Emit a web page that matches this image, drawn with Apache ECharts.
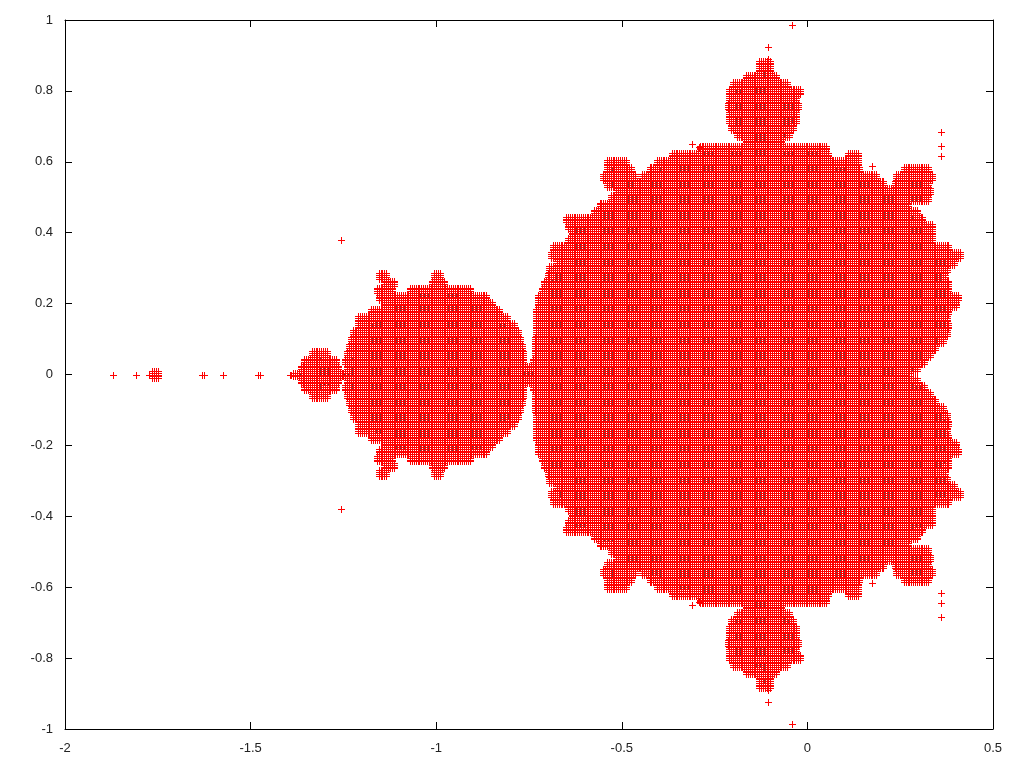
<!DOCTYPE html>
<html><head><meta charset="utf-8">
<style>html,body{margin:0;padding:0;background:#fff}#c{width:1024px;height:768px}</style>
<script src="https://cdn.jsdelivr.net/npm/echarts@6/dist/echarts.min.js"></script>
</head><body><div id="c"></div>
<script>
// Lower half of the picture mirrors the upper half.
const rows = [
[0,-1.397,0.268],
[0.005,-1.385,0.275],
[0.025,-1.367,-1.262,-1.240,0.295],
[0.045,-1.359,-1.270,-1.246,-0.763,-0.742,0.317],
[0.065,-1.335,-1.295,-1.240,-0.763,-0.739,0.333],
[0.085,-1.235,-0.766,-0.736,0.346],
[0.105,-1.232,-0.771,-0.736,0.365],
[0.125,-1.227,-0.780,-0.734,0.376],
[0.145,-1.211,-0.790,-0.734,0.384],
[0.165,-1.213,-0.807,-0.734,0.379],
[0.185,-1.175,-0.828,-0.731,0.384],
[0.205,-1.143,-0.847,-0.728,0.403],
[0.225,-1.157,-0.863,-0.726,0.408],
[0.245,-1.162,-1.116,-1.071,-0.909,-0.718,0.382],
[0.265,-1.143,-1.114,-1.011,-0.979,-0.712,0.382],
[0.285,-1.157,-1.135,-1.009,-0.987,-0.704,0.371],
[0.305,-0.696,0.379],
[0.325,-0.675,0.398],
[0.345,-0.691,0.414],
[0.365,-0.685,0.382],
[0.385,-0.645,0.336],
[0.405,-0.637,0.336],
[0.425,-0.648,0.338],
[0.445,-0.650,0.314],
[0.465,-0.578,0.295],
[0.485,-0.564,0.271],
[0.505,-0.532,0.325],
[0.525,-0.516,0.330],
[0.545,-0.543,0.206,0.231,0.328],
[0.565,-0.551,-0.462,-0.449,0.185,0.238,0.336],
[0.585,-0.543,-0.475,-0.429,0.141,0.258,0.325],
[0.605,-0.543,-0.486,-0.408,0.139],
[0.625,-0.368,0.056,0.109,0.136],
[0.645,-0.290,0.051],
[0.665,-0.165,-0.070],
[0.685,-0.190,-0.050],
[0.705,-0.208,-0.036],
[0.725,-0.211,-0.028],
[0.745,-0.211,-0.028],
[0.765,-0.217,-0.023],
[0.785,-0.211,-0.028],
[0.805,-0.211,-0.020],
[0.825,-0.203,-0.055],
[0.845,-0.168,-0.085],
[0.865,-0.133,-0.098],
[0.885,-0.130,-0.100]
];
// Points standing apart from the main body: [x, |y|]
const strayPoints = [
[-1.871,0],[-1.809,0],[-1.775,0],[-1.63,0],[-1.625,0],[-1.574,0],[-1.48,0],[-1.475,0],
[-1.765,0.005],[-1.76,0.005],[-1.755,0.005],[-1.75,0.005],
[-1.765,0],[-1.76,0],[-1.755,0],[-1.75,0],
[-1.765,0.01],[-1.76,0.01],[-1.755,0.01],[-1.75,0.01],
[-1.256,0.379],[-0.311,0.65],[-0.293,0.642],[0.174,0.588],
[0.36,0.684],[0.36,0.644],[0.36,0.616],[-0.106,0.924],[-0.041,0.986],[-0.105,0.89]
];
const sampleStep = 0.005;
const RED = '#ff0000', DARK = '#2f5f5f';

const spans = [], underSpans = [];
let prev = -sampleStep;
rows.forEach(function (r, i) {
  const top = r[0];
  const above = rows[i + 1] || [];
  for (let j = Math.round((prev + sampleStep) / sampleStep); j <= Math.round(top / sampleStep); j++) {
    const g = +(j * sampleStep).toFixed(3);
    for (let s = 1; s < r.length; s += 2) {
      spans.push([g, r[s], r[s + 1]]);
      if (g !== 0) spans.push([-g, r[s], r[s + 1]]);
      for (let t = 1; t < above.length; t += 2) {
        const a = Math.max(r[s], above[t]) + 0.012, b = Math.min(r[s + 1], above[t + 1]) - 0.012;
        if (a < b) {
          underSpans.push([g, a, b]);
          if (g !== 0) underSpans.push([-g, a, b]);
        }
      }
    }
  }
  prev = top;
});
const stray = [];
for (const p of strayPoints) {
  stray.push([p[1], p[0], p[0]]);
  if (p[1] !== 0) stray.push([-p[1], p[0], p[0]]);
}
function cross(px, py) {
  return 'M' + (px - 3) + ' ' + (py + .5) + 'H' + (px + 4) + 'M' + (px + .5) + ' ' + (py - 3) + 'V' + (py + 4);
}
function crossSpan(params, api) {
  const g = api.value(0), x0 = api.value(1), x1 = api.value(2);
  let d = '';
  const k0 = Math.ceil(x0 / sampleStep - 1e-6), k1 = Math.floor(x1 / sampleStep + 1e-6);
  for (let k = k0; k <= k1; k++) {
    const c = api.coord([k * sampleStep, g]);
    d += cross(Math.round(c[0]), Math.round(c[1]));
  }
  return {type:'path', silent:true, shape:{pathData:d}, style:{fill:null, stroke:RED, lineWidth:1}};
}
function crossStray(params, api) {
  const c = api.coord([api.value(1), api.value(0)]);
  return {type:'path', silent:true, shape:{pathData:cross(Math.round(c[0]), Math.round(c[1]))}, style:{fill:null, stroke:RED, lineWidth:1}};
}
function underSpan(params, api) {
  const g = api.value(0), x0 = api.value(1), x1 = api.value(2);
  let d = '';
  const k0 = Math.ceil(x0 / sampleStep - 1e-6), k1 = Math.floor(x1 / sampleStep + 1e-6);
  for (let k = k0; k <= k1; k++) {
    const c = api.coord([k * sampleStep, g]);
    const px = 4 * Math.round(c[0] / 4), py = 2 * Math.round(c[1] / 2);
    d += 'M' + px + ' ' + (py + .5) + 'h1';
  }
  return {type:'path', silent:true, shape:{pathData:d}, style:{fill:null, stroke:DARK, lineWidth:1}};
}
const font = {fontFamily:'Liberation Sans', fontSize:13, color:'#222'};
const line = {show:true, onZero:false, lineStyle:{color:'#000', width:1}};
const tick = {show:true, inside:true, length:7, lineStyle:{color:'#000', width:1}};
const chart = echarts.init(document.getElementById('c'), null, {renderer:'canvas'});
chart.setOption({
  animation:false, backgroundColor:'#fff',
  grid:{left:65, top:20, width:928, height:709, containLabel:false},
  xAxis:[
    {type:'value', min:-2, max:0.5, interval:0.5, position:'bottom', axisLine:line, axisTick:tick, splitLine:{show:false}, axisLabel:Object.assign({margin:13}, font)},
    {type:'value', min:-2, max:0.5, interval:0.5, position:'top', axisLine:line, axisTick:tick, splitLine:{show:false}, axisLabel:{show:false}}
  ],
  yAxis:[
    {type:'value', min:-1, max:1, interval:0.2, position:'left', axisLine:line, axisTick:tick, splitLine:{show:false}, axisLabel:Object.assign({margin:12}, font)},
    {type:'value', min:-1, max:1, interval:0.2, position:'right', axisLine:line, axisTick:tick, splitLine:{show:false}, axisLabel:{show:false}}
  ],
  series:[
    {type:'custom', name:'under', renderItem:underSpan, data:underSpans, encode:{x:[1,2], y:0}, animation:false, clip:false, progressive:0},
    {type:'custom', name:'points', renderItem:crossSpan, data:spans, encode:{x:[1,2], y:0}, animation:false, clip:false, progressive:0},
    {type:'custom', name:'stray', renderItem:crossStray, data:stray, encode:{x:1, y:0}, animation:false, clip:false, progressive:0}
  ]
});
</script></body></html>
